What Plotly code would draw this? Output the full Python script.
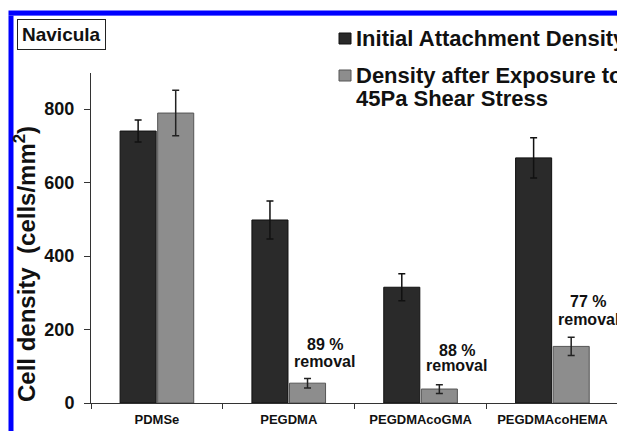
import plotly.graph_objects as go

# ---------------- data ----------------
categories = ["PDMSe", "PEGDMA", "PEGDMAcoGMA", "PEGDMAcoHEMA"]
initial_density = [740, 498, 315, 667]
initial_err = [30, 52, 37, 55]
after_density = [789, 54, 38, 154]
after_err = [62, 13, 12, 25]
removal_pct = ["", "89 %", "88 %", "77 %"]
removal_pct_y = [None, 158, 144, 275]
removal_word_y = [None, 112, 102, 226]
y_ticks = [0, 200, 400, 600, 800]
series_names = ["Initial Attachment Density",
                "Density after Exposure to 45Pa Shear Stress"]
legend_lines = [["Initial Attachment Density"],
                ["Density after Exposure to", "45Pa Shear Stress"]]
panel_label = "Navicula"
y_title = "Cell density  (cells/mm<sup>2</sup>)"

# ---------------- geometry ----------------
W, H = 617, 431
L, R, T, B = 91, 0, 73, 28
FONT = "Liberation Sans, Arial, sans-serif"
DARK = "#2a2a2a"
GRAY = "#8d8d8d"


def px(x):
    return (x - L) / (W - L - R)


def py(y):
    return (H - B - y) / (H - T - B)


fig = go.Figure()
fig.add_trace(go.Bar(
    x=categories, y=initial_density, name=series_names[0],
    marker=dict(color=DARK, line=dict(color="#111111", width=1)),
    error_y=dict(type="data", array=initial_err, color="#111111",
                 thickness=1.5, width=3.5),
    showlegend=False))
fig.add_trace(go.Bar(
    x=categories, y=after_density, name=series_names[1],
    marker=dict(color=GRAY, line=dict(color="#555555", width=1)),
    error_y=dict(type="data", array=after_err, color="#222222",
                 thickness=1.5, width=3.5),
    showlegend=False))

annotations = []
# removal annotations
for cat, lab, y1, y2 in zip(categories, removal_pct, removal_pct_y, removal_word_y):
    if not lab:
        continue
    annotations.append(dict(x=cat, y=y1, xref="x", yref="y", text=lab,
                            showarrow=False, xshift=36,
                            font=dict(size=16, family=FONT, color="#111", weight="bold")))
    annotations.append(dict(x=cat, y=y2, xref="x", yref="y", text="removal",
                            showarrow=False, xshift=36,
                            font=dict(size=16, family=FONT, color="#111", weight="bold")))

# y-axis title
annotations.append(dict(x=px(25), y=py(264), xref="paper", yref="paper",
                        text=y_title, textangle=-90, showarrow=False,
                        xanchor="center", yanchor="middle",
                        font=dict(size=24, family=FONT, color="#111", weight="bold")))

# panel label
annotations.append(dict(x=px(61), y=py(34), xref="paper", yref="paper",
                        text=panel_label, showarrow=False,
                        xanchor="center", yanchor="middle",
                        bordercolor="#222", borderwidth=1, borderpad=4,
                        bgcolor="white",
                        font=dict(size=19, family=FONT, color="#111", weight="bold")))

# custom legend
shapes = []
legend_colors = [(DARK, "#111111"), (GRAY, "#555555")]
legend_rows = [[38], [75, 99]]
for (fill, edge), lines, rows in zip(legend_colors, legend_lines, legend_rows):
    sy = rows[0]
    shapes.append(dict(type="rect", xref="paper", yref="paper",
                       x0=px(339), x1=px(351), y0=py(sy + 6), y1=py(sy - 5),
                       fillcolor=fill, line=dict(color=edge, width=1)))
    for txt, ty in zip(lines, rows):
        annotations.append(dict(x=px(354), y=py(ty), xref="paper", yref="paper",
                                text=txt, showarrow=False,
                                xanchor="left", yanchor="middle",
                                font=dict(size=22, family=FONT, color="#111", weight="bold")))

# blue frame (left and top edges visible; the rest is cropped in the reference)
shapes.append(dict(type="rect", xref="paper", yref="paper",
                   x0=px(8.5), x1=px(617), y0=py(431), y1=py(15.5),
                   fillcolor="#0000ff", line=dict(width=0), layer="below"))
shapes.append(dict(type="rect", xref="paper", yref="paper",
                   x0=px(13.5), x1=px(617), y0=py(431), y1=py(15.5),
                   fillcolor="white", line=dict(width=0), layer="below"))
shapes.append(dict(type="rect", xref="paper", yref="paper",
                   x0=px(8.5), x1=px(617), y0=py(15.5), y1=py(10.5),
                   fillcolor="#0000ff", line=dict(width=0), layer="below"))

fig.update_layout(
    width=W, height=H,
    margin=dict(l=L, r=R, t=T, b=B, pad=0),
    paper_bgcolor="white", plot_bgcolor="rgba(0,0,0,0)",
    barmode="group", bargap=0.43, bargroupgap=0.04,
    showlegend=False,
    font=dict(family=FONT, color="#111", weight="bold"),
    annotations=annotations, shapes=shapes,
    xaxis=dict(range=[-0.5, 3.49], showgrid=False, showline=True,
               linecolor="#333", linewidth=1, ticks="outside",
               tickson="boundaries", ticklen=5, tickcolor="#333",
               ticklabelstandoff=4,
               tickfont=dict(size=13, family=FONT, color="#111", weight="bold"),
               fixedrange=True),
    yaxis=dict(range=[0, 898], tickvals=y_ticks, showgrid=False,
               zeroline=False, showline=True, linecolor="#333", linewidth=1,
               ticks="outside", ticklen=6, tickcolor="#333",
               ticklabelstandoff=6,
               tickfont=dict(size=18, family=FONT, color="#111", weight="bold")),
)

fig.write_html(
    "out.html",
    config={"displayModeBar": False},
    post_script="document.body.style.margin='0';document.body.style.overflow='hidden';",
)
